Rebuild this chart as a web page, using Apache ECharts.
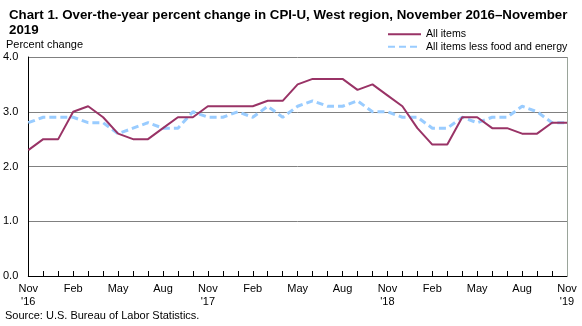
<!DOCTYPE html>
<html><head><meta charset="utf-8">
<script src="https://cdn.jsdelivr.net/npm/echarts@6/dist/echarts.min.js"></script>
<style>html,body{margin:0;padding:0;background:#fff}#c{width:582px;height:326px}</style>
</head><body><div id="c"></div>
<script>
var months = ["Nov\n'16","Dec","Jan","Feb","Mar","Apr","May","Jun","Jul","Aug","Sep","Oct",
  "Nov\n'17","Dec","Jan","Feb","Mar","Apr","May","Jun","Jul","Aug","Sep","Oct",
  "Nov\n'18","Dec","Jan","Feb","Mar","Apr","May","Jun","Jul","Aug","Sep","Oct","Nov\n'19"];
var allItems = [2.3,2.5,2.5,3.0,3.1,2.9,2.6,2.5,2.5,2.7,2.9,2.9,
  3.1,3.1,3.1,3.1,3.2,3.2,3.5,3.6,3.6,3.6,3.4,3.5,
  3.3,3.1,2.7,2.4,2.4,2.9,2.9,2.7,2.7,2.6,2.6,2.8,2.8];
var core = [2.8,2.9,2.9,2.9,2.8,2.8,2.6,2.7,2.8,2.7,2.7,3.0,
  2.9,2.9,3.0,2.9,3.1,2.9,3.1,3.2,3.1,3.1,3.2,3.0,
  3.0,2.9,2.9,2.7,2.7,2.9,2.8,2.9,2.9,3.1,3.0,2.8,2.8];
var yTicks = [0,1,2,3,4];

var font = "'Liberation Sans', Arial, sans-serif";
var chart = echarts.init(document.getElementById('c'));
chart.setOption({
  animation:false,
  textStyle:{fontFamily:font},
  title:{text:"Chart 1. Over-the-year percent change in CPI-U, West region, November 2016–November\n2019",
    left:4, top:3, itemGap:0,
    textStyle:{fontFamily:font, fontSize:13.3, fontWeight:'bold', color:'#000', lineHeight:15}},
  legend:{orient:'vertical', left:382, top:23, itemWidth:33, itemHeight:10, itemGap:0,
    itemStyle:{opacity:0},
    textStyle:{fontFamily:font, fontSize:10.6, color:'#000', lineHeight:12.5},
    data:['All items','All items less food and energy']},
  graphic:[{type:'text', left:6, top:39, style:{text:'Percent change', font:'11px '+font, fill:'#000'}},
    {type:'text', left:5, top:310, style:{text:'Source: U.S. Bureau of Labor Statistics.', font:'11px '+font, fill:'#000'}}],
  grid:{left:27, right:15, top:57, bottom:50},
  xAxis:{type:'category', data:months, boundaryGap:false,
    axisLine:{lineStyle:{color:'#000', width:1}},
    axisTick:{inside:true, length:5, interval:0, lineStyle:{color:'#000'}},
    axisLabel:{interval:2, color:'#000', fontSize:11, fontFamily:font, margin:6, lineHeight:13},
    splitLine:{show:false}},
  yAxis:{type:'value', min:yTicks[0], max:yTicks[yTicks.length-1], interval:1,
    axisLine:{show:true, lineStyle:{color:'#000'}},
    axisTick:{show:false},
    axisLabel:{color:'#000', fontSize:11, fontFamily:font, margin:10, formatter:function(v){return v.toFixed(1);}},
    splitLine:{lineStyle:{color:'#808080', width:1}}},
  series:[
    {name:'All items less food and energy', type:'line', data:core, symbol:'none',
      lineStyle:{color:'#99CCFF', width:3, type:[7,4]}, itemStyle:{color:'#99CCFF'}, z:2},
    {name:'All items', type:'line', data:allItems, symbol:'none',
      lineStyle:{color:'#993366', width:2}, itemStyle:{color:'#993366'}, z:3},
    {type:'line', data:[], markLine:{silent:true, symbol:'none', label:{show:false},
      lineStyle:{color:'#9aa49a', type:'solid', width:1},
      data:[[{xAxis:months.length-1, yAxis:0},{xAxis:months.length-1, yAxis:4}]]}}
  ]
});
</script></body></html>
